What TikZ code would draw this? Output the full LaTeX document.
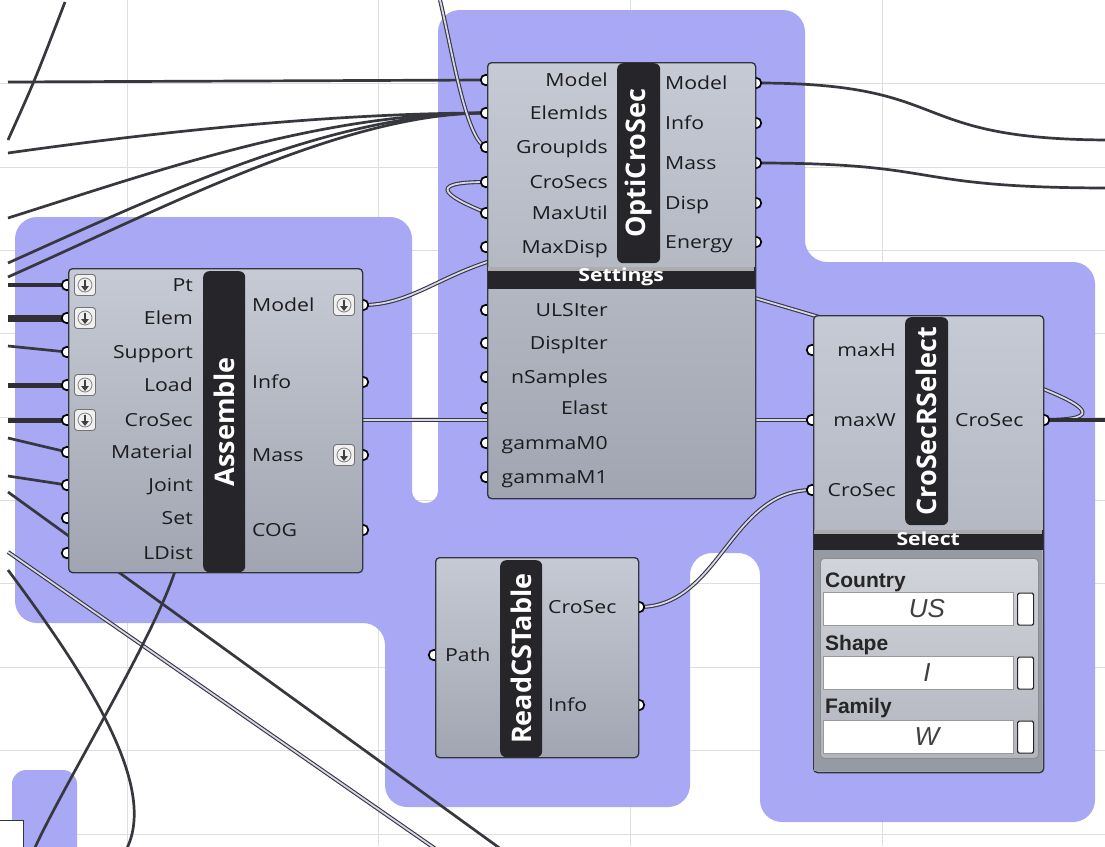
\documentclass[tikz,border=0pt]{standalone}
\usepackage{fontspec}
\setmainfont{Open Sans}
\newfontfamily\labfont{Open Sans}[FakeStretch=1.18]
\newfontfamily\ttlfont{Open Sans}
\newfontfamily\panfont{Liberation Sans}
\usetikzlibrary{arrows.meta}
\definecolor{grp}{RGB}{168,168,244}
\definecolor{wirec}{RGB}{55,55,62}
\definecolor{bodytop}{RGB}{198,202,212}
\definecolor{bodybot}{RGB}{160,165,177}
\definecolor{barc}{RGB}{38,38,42}
\definecolor{edgec}{RGB}{50,52,60}
\definecolor{txtc}{RGB}{28,28,32}
\definecolor{gridc}{RGB}{222,222,222}
\definecolor{dblc}{RGB}{214,214,236}
\definecolor{frmc}{RGB}{150,154,163}
\definecolor{pantop}{RGB}{210,212,219}
\definecolor{panbot}{RGB}{178,181,190}
\begin{document}
\begin{tikzpicture}[x=1pt,y=-1pt,
 wire/.style={draw=wirec,line width=2.7pt},
 twire/.style={draw=wirec!85!black,line width=#1},
 dwire/.style={draw=wirec,line width=1.1pt,double=dblc,double distance=1.8pt},
 body/.style={draw=edgec,line width=1.3pt,rounded corners=4pt,top color=bodytop,bottom color=bodybot,inner sep=0pt,anchor=north west},
 tbar/.style={fill=barc,rounded corners=6pt,inner sep=0pt,anchor=north west},
 sbar/.style={fill=barc,inner sep=0pt,anchor=north west},
 ttl/.style={text=white,font=\ttlfont\bfseries\fontsize{27}{27}\selectfont,rotate=90,inner sep=0pt},
 lbl/.style={text=txtc,font=\labfont\fontsize{18}{18}\selectfont,inner sep=0pt},
 barlbl/.style={text=white,font=\labfont\bfseries\fontsize{18}{18}\selectfont,inner sep=0pt},
 port/.style={circle,draw=black,line width=1.7pt,fill=white,minimum size=10.5pt,inner sep=0pt},
 flatbox/.style={draw=black!55,line width=0.9pt,fill=white!88!gray,rounded corners=3pt,minimum size=21pt,inner sep=0pt},
 plbl/.style={text=black!85,font=\panfont\bfseries\fontsize{21}{21}\selectfont,inner sep=0pt,anchor=base west},
 pval/.style={text=black!75,font=\panfont\itshape\fontsize{26}{26}\selectfont,inner sep=0pt},
 field/.style={draw=black!40,line width=0.6pt,fill=white,inner sep=0pt,anchor=north west,minimum width=190pt,minimum height=33pt},
 cbox/.style={draw=black!85,line width=1.2pt,fill=white,rounded corners=1.5pt,inner sep=0pt,anchor=north west,minimum width=16pt,minimum height=32pt},
]
\useasboundingbox (0,0) rectangle (1105,846);
\fill[white] (0,0) rectangle (1105,846);
% grid
\foreach \gy in {83,167,250,333,417,500,583,667,750,834}{\draw[gridc,line width=0.8pt] (0,\gy) -- (1105,\gy);}
\foreach \gx in {127,378,630,882}{\draw[gridc,line width=0.8pt] (\gx,0) -- (\gx,846);}
% groups
\fill[grp,rounded corners=22pt] (600,10) -- (805,10) -- (805,262) -- (1095,262) -- (1095,822) -- (760,822) -- (760,553) -- (690,553) -- (690,807) -- (385,807) -- (385,623) -- (15,623) -- (15,217) -- (412,217) -- (412,400) [rounded corners=12pt] -- (412,503) -- (438,503) -- (438,400) [rounded corners=22pt] -- (438,260) -- (438,10) -- cycle;
\fill[grp,rounded corners=14pt] (12,770) rectangle (77,900);

% ports (coordinates)
\foreach \yy [count=\i] in {80,113,147,182,213,247}{\coordinate (oi\i) at (486,\yy);}
\foreach \yy [count=\i] in {310,343,377,408,443,477}{\coordinate (os\i) at (486,\yy);}
\foreach \yy [count=\i] in {83,123,163,203,242}{\coordinate (oo\i) at (756,\yy);}
\foreach \yy [count=\i] in {285,318,352,385,420,452,485,518,553}{\coordinate (ai\i) at (67,\yy);}
\foreach \yy [count=\i] in {305,382,455,530}{\coordinate (ao\i) at (363,\yy);}
\foreach \yy [count=\i] in {350,420,490}{\coordinate (ci\i) at (812,\yy);}
\coordinate (co1) at (1044,420);
\coordinate (ri1) at (434,655);
\coordinate (ro1) at (639,607);
\coordinate (ro2) at (639,705);

% free ends
\coordinate (fa1) at (8,140); \coordinate (fa2) at (65,2);
\coordinate (fw2) at (8,82);
\coordinate (fw3) at (8,153); \coordinate (fw4) at (8,218);
\coordinate (fw5) at (8,263); \coordinate (fw6) at (8,277);
\coordinate (ft1) at (440,0);
\coordinate (fhid) at (540,250);
\coordinate (fh420) at (300,420);
\coordinate (fr1) at (1112,140); \coordinate (fr2) at (1112,188); \coordinate (fr3) at (1112,420);
\coordinate (fp1) at (8,285); \coordinate (fp2) at (8,318); \coordinate (fp3) at (8,346);
\coordinate (fp4) at (8,385); \coordinate (fp5) at (8,420); \coordinate (fp6) at (8,438);
\coordinate (fp7) at (8,476);
\coordinate (fA1) at (8,492); \coordinate (fA2) at (505,852);
\coordinate (fB1) at (8,552); \coordinate (fB2) at (440,852);
\coordinate (fC1) at (8,570); \coordinate (fC2) at (125,852);
\coordinate (fD1) at (178,560); \coordinate (fD2) at (33,852);

% wires
\draw[wire] (fa1) .. controls (35,80) .. (fa2);
\draw[wire] (fw2) -- (oi1);
\draw[wire] (fw3) .. controls (150,133) and (330,113) .. (oi2);
\draw[wire] (fw4) .. controls (160,170) and (320,113) .. (oi2);
\draw[wire] (fw5) .. controls (160,195) and (330,113) .. (oi2);
\draw[wire] (fw6) .. controls (170,205) and (345,113) .. (oi2);
\draw[dwire] (ft1) .. controls (452,50) and (466,140) .. (oi3);
\draw[dwire] (co1) .. controls (1294,420) and (236,182) .. (oi4);
\draw[dwire] (ao1) .. controls (420,305) and (450,262) .. (fhid);
\draw[dwire] (fh420) -- (ci2);
\draw[wire] (oo1) .. controls (960,83) and (900,140) .. (fr1);
\draw[wire] (oo3) .. controls (950,163) and (900,188) .. (fr2);
\draw[twire=3.5pt] (co1) -- (fr3);
\draw[dwire] (ro1) .. controls (720,607) and (730,490) .. (ci3);
\draw[twire=4.5pt] (fp1) -- (ai1);
\draw[twire=7pt] (fp2) -- (ai2);
\draw[wire] (fp3) -- (ai3);
\draw[twire=5pt] (fp4) -- (ai4);
\draw[twire=5pt] (fp5) -- (ai5);
\draw[wire] (fp6) -- (ai6);
\draw[wire] (fp7) -- (ai7);
\draw[wire] (fA1) -- (fA2);
\draw[dwire] (fB1) -- (fB2);
\draw[wire] (fC1) .. controls (90,680) and (160,790) .. (fC2);
\draw[wire] (fD1) .. controls (165,620) and (60,790) .. (fD2);

% port circles
\foreach \i in {1,...,6}{\node[port] (poi\i) at (oi\i) {}; \node[port] (pos\i) at (os\i) {};}
\foreach \i in {1,...,5}{\node[port] (poo\i) at (oo\i) {};}
\foreach \i in {1,...,9}{\node[port] (pai\i) at (ai\i) {};}
\foreach \i in {1,...,4}{\node[port] (pao\i) at (ao\i) {};}
\foreach \i in {1,...,3}{\node[port] (pci\i) at (ci\i) {};}
\node[port] (pco1) at (co1) {};
\node[port] (pri1) at (ri1) {};
\node[port] (pro1) at (ro1) {};
\node[port] (pro2) at (ro2) {};

% ---------- Assemble ----------
\node[body,minimum width=294pt,minimum height=304pt] (asm) at (68,268) {};
\node[tbar,minimum width=42pt,minimum height=301pt] (asmbar) at (203,271) {};
\node[ttl] (asmttl) at (asmbar.center) {Assemble};
\foreach \t/\yy [count=\i] in {Pt/285,Elem/318,Support/352,Load/385,CroSec/420,Material/452,Joint/485,Set/518,LDist/553}
  {\node[lbl,anchor=base east] (asmli\i) at (193,\yy+6.5) {\t};}
\foreach \t/\yy [count=\i] in {Model/305,Info/382,Mass/455,COG/530}
  {\node[lbl,anchor=base west] (asmlo\i) at (252,\yy+6.5) {\t};}
\foreach \n/\xx/\yy in {fl1/85/285,fl2/85/318,fl3/85/385,fl4/85/420,fl5/344/305,fl6/344/455}{
  \node[flatbox] (\n) at (\xx,\yy) {};
  \draw[black!50,line width=0.8pt] (\n.center) circle (7pt);
  \draw[black!75,line width=1.6pt,-{Triangle[length=5pt,width=7.5pt]}] ([yshift=5.5pt]\n.center) -- ([yshift=-6pt]\n.center);
}

% ---------- OptiCroSec ----------
\node[body,minimum width=268pt,minimum height=436pt] (opt) at (487,62) {};
\node[tbar,minimum width=43pt,minimum height=200pt] (optbar) at (617,63) {};
\node[ttl] (optttl) at (optbar.center) {OptiCroSec};
\node[sbar,minimum width=267pt,minimum height=22pt] (optset) at (487.5,267) {};
\fill[gray!65] (488,267) rectangle (754,270.5);
\node[barlbl] (optsett) at ([yshift=1pt]optset.center) {Settings};
\foreach \t/\yy [count=\i] in {Model/80,ElemIds/113,GroupIds/147,CroSecs/182,MaxUtil/213,MaxDisp/247}
  {\node[lbl,anchor=base east] (optli\i) at (608,\yy+6.5) {\t};}
\foreach \t/\yy [count=\i] in {Model/83,Info/123,Mass/163,Disp/203,Energy/242}
  {\node[lbl,anchor=base west] (optlo\i) at (665,\yy+6.5) {\t};}
\foreach \t/\yy [count=\i] in {ULSIter/310,DispIter/343,nSamples/377,Elast/408,gammaM0/443,gammaM1/477}
  {\node[lbl,anchor=base east] (optls\i) at (608,\yy+6.5) {\t};}

% ---------- CroSecRSelect ----------
\node[body,minimum width=230pt,minimum height=457pt] (csr) at (813,315) {};
\fill[frmc] (814,550) rectangle (1042,771);
\node[tbar,minimum width=43pt,minimum height=208pt] (csrbar) at (905,317) {};
\node[ttl] (csrttl) at (csrbar.center) {CroSecRSelect};
\node[sbar,minimum width=229pt,minimum height=20pt] (csrsel) at (813.5,530) {};
\fill[gray!65] (814,530) rectangle (1042,533.5);
\node[barlbl] (csrselt) at ([yshift=1pt]csrsel.center) {Select};
\node[draw=black!45,line width=0.8pt,rounded corners=4pt,top color=pantop,bottom color=panbot,anchor=north west,minimum width=218pt,minimum height=200pt,inner sep=0pt] (csrpan) at (820,558) {};
\foreach \t/\yy [count=\i] in {maxH/350,maxW/420,CroSec/490}
  {\node[lbl,anchor=base east] (csrli\i) at (896,\yy+6.5) {\t};}
\node[lbl,anchor=base west] (csrlo1) at (955,426.5) {CroSec};
\node[plbl] (pl1) at (825,587) {Country};
\node[field] (pf1) at (823,592) {};
\node[cbox] (pc1) at (1017,592.5) {};
\node[pval] (pv1) at (927,608.5) {US};
\node[plbl] (pl2) at (825,650) {Shape};
\node[field] (pf2) at (823,656) {};
\node[cbox] (pc2) at (1017,656.5) {};
\node[pval] (pv2) at (927,672.5) {I};
\node[plbl] (pl3) at (825,713) {Family};
\node[field] (pf3) at (823,720) {};
\node[cbox] (pc3) at (1017,720.5) {};
\node[pval] (pv3) at (927,736.5) {W};

% ---------- ReadCSTable ----------
\node[body,minimum width=203pt,minimum height=200pt] (rcs) at (435,557) {};
\node[tbar,minimum width=42pt,minimum height=197pt] (rcsbar) at (500,560) {};
\node[ttl] (rcsttl) at (rcsbar.center) {ReadCSTable};
\node[lbl,anchor=base west] (rcsli1) at (445,661.5) {Path};
\node[lbl,anchor=base west] (rcslo1) at (548,613.5) {CroSec};
\node[lbl,anchor=base west] (rcslo2) at (548,711.5) {Info};

% ---------- partial component bottom-left ----------
\node[draw=edgec,line width=1.3pt,fill=white,anchor=north west,minimum width=40pt,minimum height=40pt,inner sep=0pt] (stub) at (-17,820) {};
\end{tikzpicture}
\end{document}
